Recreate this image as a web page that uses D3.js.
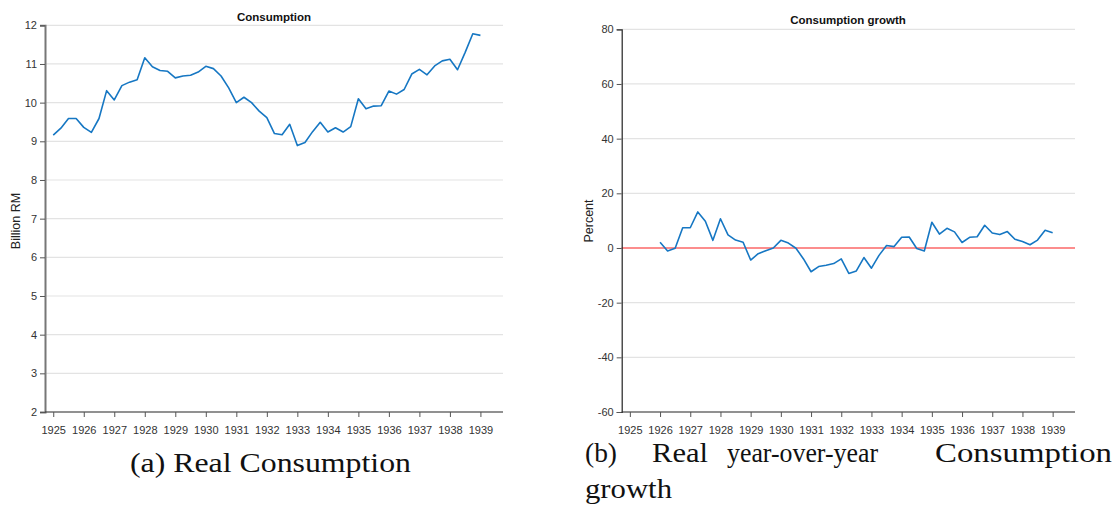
<!DOCTYPE html>
<html>
<head>
<meta charset="utf-8">
<script src="https://cdn.jsdelivr.net/npm/d3@7"></script>
<style>
  body { margin: 0; background: white; }
  svg { display: block; }
</style>
</head>
<body>
<div id="chart"></div>
<script>
// quarterly real consumption, billion RM, 1925Q1 .. 1939Q1
let consStart = 1925;
let consumption = [
  9.16, 9.34, 9.59, 9.59, 9.36, 9.23, 9.59, 10.31, 10.07, 10.44, 10.53, 10.59,
  11.16, 10.93, 10.83, 10.81, 10.64, 10.69, 10.71, 10.79, 10.94, 10.88, 10.69, 10.38,
  10.0, 10.14, 10.0, 9.78, 9.61, 9.20, 9.17, 9.44, 8.89, 8.97, 9.25, 9.49,
  9.24, 9.35, 9.24, 9.38, 10.10, 9.84, 9.91, 9.92, 10.30, 10.22, 10.34, 10.74,
  10.86, 10.72, 10.95, 11.08, 11.12, 10.85, 11.30, 11.78, 11.74
];

// year-over-year growth, percent, 1926Q1 .. 1939Q1
let growthStart = 1926;
let growth = [
  2.1, -1.1, -0.1, 7.4, 7.4, 13.2, 9.8, 2.8, 10.7, 4.8, 2.9, 2.1,
  -4.4, -2.1, -1.0, 0.0, 2.8, 1.8, -0.1, -4.0, -8.7, -6.8, -6.3, -5.7,
  -4.0, -9.3, -8.4, -3.5, -7.4, -2.7, 0.9, 0.5, 3.9, 4.0, -0.2, -1.1,
  9.4, 5.1, 7.2, 5.9, 2.0, 3.9, 4.1, 8.3, 5.5, 4.9, 6.0, 3.2,
  2.4, 1.2, 2.9, 6.5, 5.6
];

let years = d3.range(1925, 1940);
let consTicks = [2, 3, 4, 5, 6, 7, 8, 9, 10, 11, 12];
let growthTicks = [-60, -40, -20, 0, 20, 40, 60, 80];

let lineColor = '#1677c3';
let sans = '"Liberation Sans", Arial, sans-serif';
let serif = '"Liberation Serif", "DejaVu Serif", serif';

let svg = d3.select('#chart').append('svg')
    .attr('width', 1120)
    .attr('height', 506);

// plain hyphen for negatives, like the original
let plain = d => String(d);

function drawPanel(opts) {
    let x = d3.scaleLinear().domain([1924.73, 1939.74]).range([opts.left, opts.right]);
    let y = d3.scaleLinear().domain(opts.yDomain).range([opts.bottom, opts.top]);
    let g = svg.append('g');

    // grid
    g.append('g').selectAll('line')
        .data(opts.yTicks)
        .join('line')
        .attr('x1', opts.left).attr('x2', opts.right)
        .attr('y1', d => y(d)).attr('y2', d => y(d))
        .attr('stroke', '#e3e3e3')
        .attr('stroke-width', 1.2);

    if (opts.zeroLine) {
        g.append('line')
            .attr('x1', opts.left).attr('x2', opts.right)
            .attr('y1', y(0)).attr('y2', y(0))
            .attr('stroke', '#ff6b6b')
            .attr('stroke-width', 1.5);
    }

    // axes
    let yAxis = g.append('g')
        .attr('transform', `translate(${opts.left},0)`)
        .call(d3.axisLeft(y).tickValues(opts.yTicks).tickSize(5).tickPadding(3).tickFormat(plain));
    yAxis.select('.domain').attr('stroke', opts.yAxisColor).attr('stroke-width', opts.yAxisWidth);
    yAxis.selectAll('.tick line').attr('stroke', '#555');
    yAxis.selectAll('text').attr('font-family', sans).attr('font-size', 11).attr('fill', '#333');

    let xAxis = g.append('g')
        .attr('transform', `translate(0,${opts.bottom})`)
        .call(d3.axisBottom(x).tickValues(years).tickSize(5).tickPadding(9).tickFormat(plain));
    xAxis.select('.domain').attr('stroke', '#333').attr('stroke-width', 1.2)
        .attr('d', `M${opts.left},0H${opts.right}`);
    xAxis.selectAll('.tick line').attr('stroke', '#555');
    xAxis.selectAll('text').attr('font-family', sans).attr('font-size', 11).attr('fill', '#333');

    // series
    let line = d3.line()
        .x((d, i) => x(opts.start + i / 4))
        .y(d => y(d));
    g.append('path')
        .datum(opts.values)
        .attr('d', line)
        .attr('fill', 'none')
        .attr('stroke', lineColor)
        .attr('stroke-width', 1.6)
        .attr('stroke-linejoin', 'round');

    // title
    g.append('text')
        .attr('x', opts.titleX).attr('y', opts.titleY)
        .attr('text-anchor', 'middle')
        .attr('font-family', sans).attr('font-size', opts.titleSize).attr('font-weight', 'bold')
        .attr('fill', '#111')
        .text(opts.title);

    // y label
    g.append('text')
        .attr('transform', `translate(${opts.yLabelX},${opts.yLabelY}) rotate(-90)`)
        .attr('text-anchor', 'middle')
        .attr('font-family', sans).attr('font-size', 12.5)
        .attr('fill', '#222')
        .text(opts.yLabel);
}

drawPanel({
    left: 45, right: 503, top: 25.3, bottom: 412,
    yDomain: [2, 12], yTicks: consTicks,
    values: consumption, start: consStart,
    title: 'Consumption', titleX: 274, titleY: 21, titleSize: 11.5,
    yLabel: 'Billion RM', yLabelX: 20, yLabelY: 221,
    yAxisColor: '#777', yAxisWidth: 2
});

drawPanel({
    left: 621.7, right: 1075, top: 29.3, bottom: 412,
    yDomain: [-60, 80], yTicks: growthTicks,
    values: growth, start: growthStart, zeroLine: true,
    title: 'Consumption growth', titleX: 848, titleY: 24, titleSize: 11.5,
    yLabel: 'Percent', yLabelX: 593, yLabelY: 221,
    yAxisColor: '#222', yAxisWidth: 1.2
});

// captions
let capSize = 27;
svg.append('text')
    .attr('x', 130).attr('y', 472)
    .attr('font-family', serif).attr('font-size', capSize)
    .attr('textLength', 281).attr('lengthAdjust', 'spacingAndGlyphs')
    .attr('fill', '#111')
    .text('(a) Real Consumption');

let capB = [
    { w: '(b)', x: 585, len: 32 },
    { w: 'Real', x: 652, len: 56 },
    { w: 'year-over-year', x: 727, len: 151 },
    { w: 'Consumption', x: 935, len: 177 }
];
svg.append('g').selectAll('text')
    .data(capB)
    .join('text')
    .attr('x', d => d.x).attr('y', 462)
    .attr('font-family', serif).attr('font-size', capSize)
    .attr('textLength', d => d.len).attr('lengthAdjust', 'spacingAndGlyphs')
    .attr('fill', '#111')
    .text(d => d.w);
svg.append('text')
    .attr('x', 585).attr('y', 498)
    .attr('font-family', serif).attr('font-size', capSize)
    .attr('textLength', 87).attr('lengthAdjust', 'spacingAndGlyphs')
    .attr('fill', '#111')
    .text('growth');
</script>
</body>
</html>
